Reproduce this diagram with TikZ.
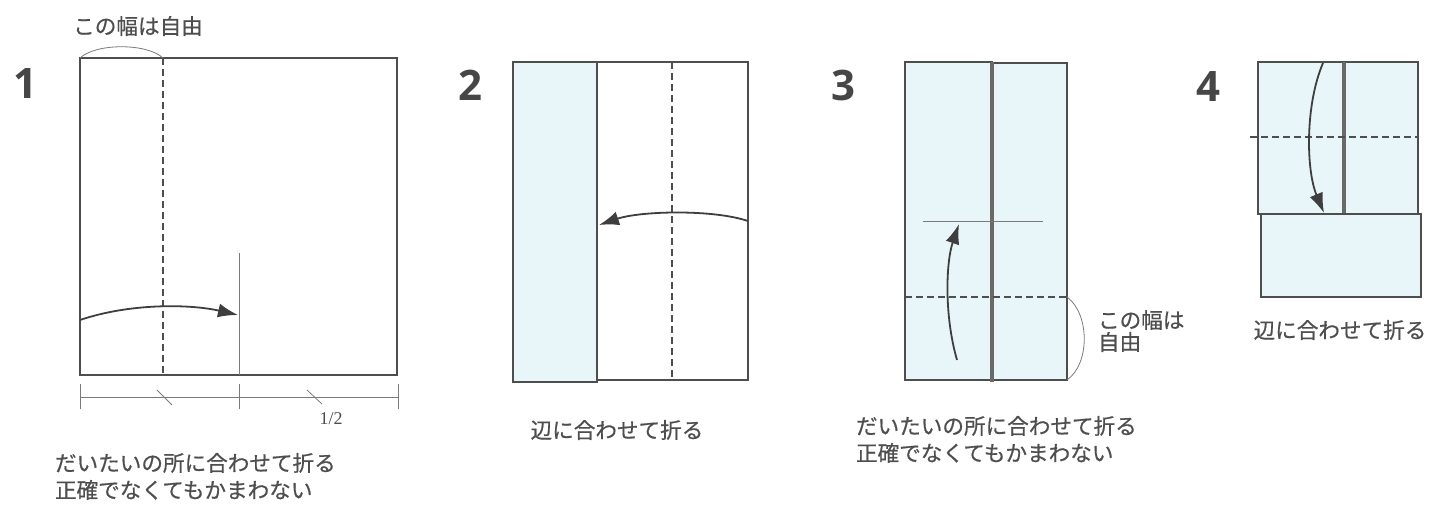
\documentclass[tikz,border=0pt]{standalone}
\usepackage{fontspec}
\setmainfont{Noto Sans CJK JP}[FakeBold=0.6]
\newfontfamily\numfont{Open Sans}
\newfontfamily\fracfont{Liberation Serif}
\usetikzlibrary{arrows.meta}
\definecolor{paper}{RGB}{232,246,249}
\definecolor{ink}{RGB}{78,78,78}

\begin{document}
\begin{tikzpicture}[x=0.5pt,y=-0.5pt,
                    line width=1pt,
                    color=ink,
                    line join=miter]
    \tikzstyle{sheet}=[draw=ink,line width=1pt]
    \tikzstyle{flap}=[sheet,fill=paper]
    \tikzstyle{crease}=[draw=ink!85,line width=1.8pt]
    \tikzstyle{valley}=[draw=ink,line width=0.8pt,dash pattern=on 3.5pt off 2pt]
    \tikzstyle{guide}=[draw=ink!75,line width=0.4pt]
    \tikzstyle{foldarrow}=[draw=ink!80!black,line width=0.9pt,-{Latex[length=10pt,width=7pt]}]
    \tikzstyle{stepnum}=[font=\numfont\bfseries\fontsize{21}{21}\selectfont,text=ink!90!black]
    \tikzstyle{caption}=[font=\fontsize{10.8}{13.5}\selectfont,text=ink,align=left,inner sep=0pt]

    \useasboundingbox (0,0) rectangle (1433,504);

    % step 1
    \node[stepnum] (n1) at (25,84) {1};
    \draw[sheet] (80,58) rectangle (397,375);
    \draw[valley] (163,58) -- (163,375);
    \draw[guide] (239,253) -- (239,375);
    \draw[guide] (80,58) .. controls (96,43) and (147,43) .. (163,58);
    \node[caption] (free1) at (138,26) {この幅は自由};
    \coordinate (a1s) at (80,320);
    \coordinate (a1e) at (238,315);
    \draw[foldarrow] (a1s) .. controls (130,303) and (190,304) .. (a1e);
    \draw[guide] (80,397) -- (398,397);
    \foreach \x in {80,239,398}
        \draw[guide] (\x,384) -- (\x,409);
    \draw[guide] (157,390) -- (172,405);
    \draw[guide] (307,390) -- (322,404);
    \node[font=\fracfont\fontsize{9}{9}\selectfont,text=ink] (half) at (331,419) {1/2};
    \node[caption,anchor=north west] (cap1) at (54,452)
        {だいたいの所に合わせて折る\\正確でなくてもかまわない};

    % step 2
    \node[stepnum] (n2) at (470,85) {2};
    \draw[sheet] (597,62) rectangle (748,380);
    \draw[flap] (513,62) rectangle (597,382);
    \draw[valley] (672,62) -- (672,380);
    \coordinate (a2s) at (748,221);
    \coordinate (a2e) at (599,225);
    \draw[foldarrow] (a2s) .. controls (712,209) and (640,211) .. (a2e);
    \node[caption] (cap2) at (617,430) {辺に合わせて折る};

    % step 3
    \node[stepnum] (n3) at (843,85) {3};
    \draw[flap] (905,62) rectangle (992,380);
    \draw[flap] (992,63) rectangle (1067,380);
    \draw[crease] (992,62) -- (992,382);
    \draw[guide] (923,221) -- (1043,221);
    \draw[valley] (905,297) -- (1067,297);
    \coordinate (a3s) at (957,360);
    \coordinate (a3e) at (959,224);
    \draw[foldarrow] (a3s) .. controls (944,315) and (946,262) .. (a3e);
    \draw[guide] (1067,297) .. controls (1090,314) and (1090,364) .. (1067,380);
    \node[caption,anchor=west,font=\fontsize{10.8}{11}\selectfont] (free3) at (1097,331) {この幅は\\自由};
    \node[caption,anchor=north west] (cap3) at (855,415)
        {だいたいの所に合わせて折る\\正確でなくてもかまわない};

    % step 4
    \node[stepnum] (n4) at (1208,87) {4};
    \draw[flap] (1258,62) rectangle (1344,214);
    \draw[flap] (1344,62) rectangle (1418,214);
    \draw[crease] (1344,62) -- (1344,214);
    \draw[valley] (1250,137) -- (1418,137);
    \draw[flap] (1261,214) rectangle (1421,297);
    \coordinate (a4s) at (1323,63);
    \coordinate (a4e) at (1324,213);
    \draw[foldarrow] (a4s) .. controls (1305,105) and (1306,170) .. (a4e);
    \node[caption] (cap4) at (1340,330) {辺に合わせて折る};
\end{tikzpicture}
\end{document}
